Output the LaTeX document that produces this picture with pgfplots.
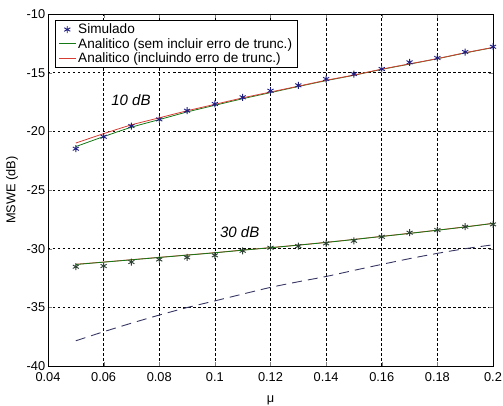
\documentclass[border=0pt]{standalone}
\usepackage{fontspec}
\setmainfont{Liberation Sans}
\usepackage{pgfplots}
\pgfplotsset{compat=1.18}

\definecolor{simblue}{RGB}{30,30,130}
\definecolor{simdark}{RGB}{45,65,50}
\definecolor{angreen}{RGB}{20,120,20}
\definecolor{anred}{RGB}{215,60,50}
\definecolor{dashnavy}{RGB}{55,55,100}

\begin{document}
\begin{tikzpicture}
\path[use as bounding box] (-48bp,-40bp) rectangle (455bp,366bp);
\begin{axis}[
  at={(0,0)}, anchor=south west,
  scale only axis, width=445bp, height=352bp,
  xmin=0.04, xmax=0.2, ymin=-40, ymax=-10,
  xtick={0.04,0.06,0.08,0.1,0.12,0.14,0.16,0.18,0.2},
  xticklabels={0.04,0.06,0.08,0.1,0.12,0.14,0.16,0.18,0.2},
  ytick={-40,-35,-30,-25,-20,-15,-10},
  yticklabels={-40,-35,-30,-25,-20,-15,-10},
  tick align=inside, major tick length=4bp,
  grid=major,
  major grid style={black, line width=0.7bp, dash pattern=on 2.5bp off 2.5bp},
  axis line style={black, line width=0.8bp},
  tick label style={font=\fontsize{12.8bp}{14bp}\selectfont, inner sep=0.8bp},
  xticklabel style={yshift=-6bp},
  yticklabel style={xshift=-1.8bp},
  xlabel={μ}, ylabel={MSWE (dB)},
  label style={font=\fontsize{12.8bp}{14bp}\selectfont},
  xlabel style={at={(axis description cs:0.5,-0.097)}, anchor=center},
  ylabel style={at={(axis description cs:-0.081,0.5)}, anchor=center},
  legend style={at={(axis description cs:0.0157,0.983)}, anchor=north west,
    draw=black, fill=white, line width=0.8bp,
    font=\fontsize{13.6bp}{15bp}\selectfont,
    inner xsep=3bp, inner ysep=1.5bp, row sep=-1bp},
  legend cell align=left,
]
% 10 dB
\addplot[only marks, mark=asterisk, mark size=3.5bp, simblue, mark options={line width=0.9bp}] coordinates {
(0.05,-21.48)(0.06,-20.46)(0.07,-19.55)(0.08,-18.98)(0.09,-18.24)(0.10,-17.67)(0.11,-17.10)(0.12,-16.54)
(0.13,-16.08)(0.14,-15.54)(0.15,-15.12)(0.16,-14.69)(0.17,-14.12)(0.18,-13.75)(0.19,-13.24)(0.20,-12.79)};
\addlegendentry{Simulado}
\addplot[angreen, line width=0.8bp, smooth] coordinates {
(0.05,-21.30)(0.06,-20.45)(0.07,-19.65)(0.08,-19.00)(0.09,-18.35)(0.10,-17.78)(0.11,-17.22)(0.12,-16.70)
(0.13,-16.18)(0.14,-15.68)(0.15,-15.22)(0.16,-14.72)(0.17,-14.27)(0.18,-13.81)(0.19,-13.32)(0.20,-12.86)};
\addlegendentry{Analitico (sem incluir erro de trunc.)}
\addplot[anred, line width=0.8bp, smooth] coordinates {
(0.05,-21.00)(0.06,-20.20)(0.07,-19.45)(0.08,-18.85)(0.09,-18.25)(0.10,-17.70)(0.11,-17.15)(0.12,-16.65)
(0.13,-16.15)(0.14,-15.65)(0.15,-15.20)(0.16,-14.70)(0.17,-14.25)(0.18,-13.80)(0.19,-13.30)(0.20,-12.85)};
\addlegendentry{Analitico (incluindo erro de trunc.)}
% 30 dB
\addplot[anred, line width=0.8bp, smooth, forget plot] coordinates {
(0.05,-31.33)(0.06,-31.14)(0.07,-30.94)(0.08,-30.74)(0.09,-30.54)(0.10,-30.34)(0.11,-30.12)(0.12,-29.91)
(0.13,-29.69)(0.14,-29.46)(0.15,-29.21)(0.16,-28.95)(0.17,-28.69)(0.18,-28.42)(0.19,-28.14)(0.20,-27.84)};
\addplot[angreen, line width=0.8bp, smooth, forget plot] coordinates {
(0.05,-31.35)(0.06,-31.15)(0.07,-30.95)(0.08,-30.75)(0.09,-30.55)(0.10,-30.35)(0.11,-30.13)(0.12,-29.92)
(0.13,-29.70)(0.14,-29.47)(0.15,-29.22)(0.16,-28.96)(0.17,-28.70)(0.18,-28.43)(0.19,-28.15)(0.20,-27.85)};
\addplot[only marks, mark=asterisk, mark size=3.5bp, simdark, mark options={line width=0.9bp}, forget plot] coordinates {
(0.05,-31.54)(0.06,-31.48)(0.07,-31.14)(0.08,-30.92)(0.09,-30.75)(0.10,-30.57)(0.11,-30.18)(0.12,-29.92)
(0.13,-29.78)(0.14,-29.55)(0.15,-29.33)(0.16,-28.99)(0.17,-28.64)(0.18,-28.41)(0.19,-28.13)(0.20,-27.93)};
% dashed curve
\addplot[dashnavy, line width=0.9bp, dash pattern=on 10bp off 6bp, smooth, forget plot] coordinates {
(0.05,-37.85)(0.06,-37.08)(0.07,-36.35)(0.08,-35.66)(0.09,-35.02)(0.10,-34.45)(0.11,-33.87)(0.12,-33.30)
(0.13,-32.82)(0.14,-32.37)(0.15,-31.85)(0.16,-31.34)(0.17,-30.85)(0.18,-30.40)(0.19,-30.00)(0.20,-29.67)};
\node[anchor=west, inner sep=0pt, font=\fontsize{15bp}{17bp}\selectfont\itshape] at (axis cs:0.0627,-17.33) {10 dB};
\node[anchor=west, inner sep=0pt, font=\fontsize{15bp}{17bp}\selectfont\itshape] at (axis cs:0.1018,-28.56) {30 dB};
\end{axis}
\end{tikzpicture}
\end{document}
